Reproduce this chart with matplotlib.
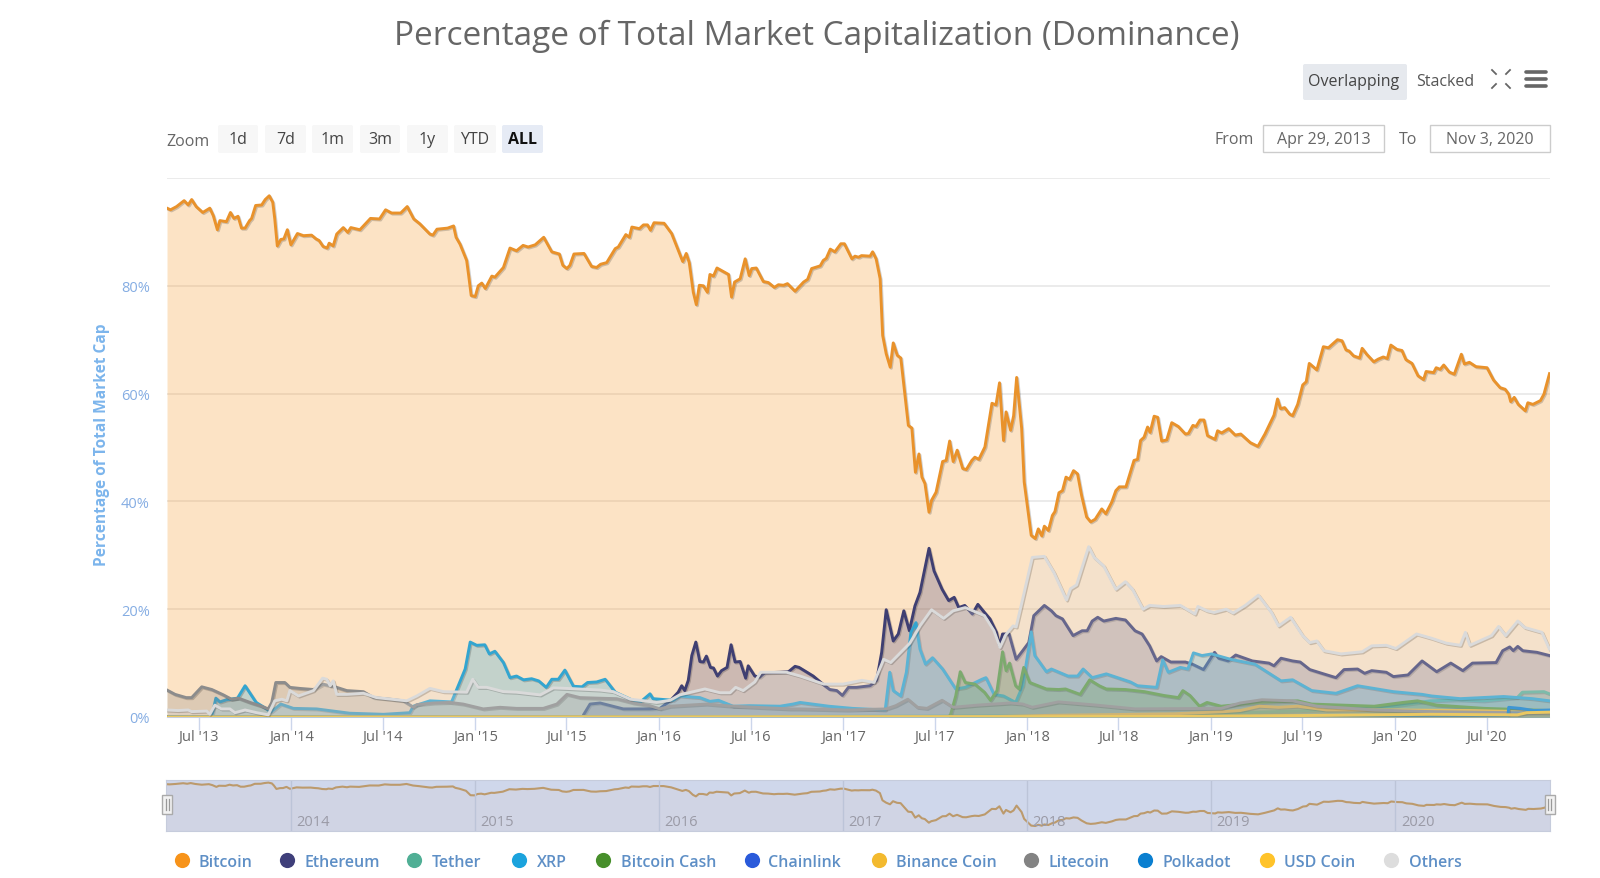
import pandas as pd
import numpy as np
import matplotlib
matplotlib.use('Agg')
import matplotlib.pyplot as plt
import matplotlib.patheffects as pe
from matplotlib.patches import FancyBboxPatch, Rectangle

plt.rcParams['font.family'] = ['Open Sans', 'DejaVu Sans']

W, H = 1600, 879

# all series: days since the first date, percent of market cap
start_date = pd.Timestamp('2013-04-29')
end_date = pd.Timestamp('2020-11-03')

btc_days = [0,7,19,34,42,49,58,71,85,92,100,105,118,126,133,141,148,155,164,168,176,188,195,203,210,214,219,226,232,239,246,259,271,287,296,302,310,318,322,330,337,350,359,365,383,404,422,434,446,464,477,490,502,522,528,536,557,569,574,582,595,599,604,612,618,625,632,645,651,668,
            681,694,707,717,731,748,764,779,786,794,800,808,828,843,853,861,873,890,896,911,918,923,938,946,954,960,967,987,1002,1024,1031,1037,1045,1051,1057,1065,1073,1078,1085,1092,1115,1121,1127,1138,1148,1156,1161,1170,1184,1194,1206,1214,1224,1232,1247,1264,1272,1280,1297,1303,1309,1317,1326,1338,1345,1360,1366,1373,1379,1396,1401,1408,
            1416,1421,1428,1436,1442,1450,1457,1472,1479,1486,1493,1499,1505,1513,1518,1527,1540,1547,1554,1561,1569,1580,1587,1598,1604,1612,1624,1638,1646,1653,1661,1666,1675,1681,1687,1697,1702,1716,1724,1730,1737,1742,1750,1758,1763,1771,1778,1785,1792,1800,1808,1816,1826,1834,1843,1856,1864,1876,1884,1891,1904,1920,1927,1933,1940,1947,
            1952,1960,1967,1975,1985,1995,2008,2022,2028,2037,2043,2051,2059,2066,2081,2086,2094,2108,2121,2132,2151,2166,2180,2198,2205,2211,2219,2229,2235,2245,2255,2262,2268,2283,2296,2306,2324,2333,2341,2347,2356,2368,2373,2382,2396,2405,2415,2423,2430,2442,2452,2460,2472,2484,2495,2500,2515,2520,2528,2535,2546,2556,2570,2576,2586,2599,2621,2634,2647,2657,2664,2668,2675,2683,2697,2702,2712,2727,2734,2745]
btc_pct = [94.4,94.1,94.7,95.8,95.0,96.0,94.7,93.6,94.4,93.0,90.4,92.1,91.9,93.6,92.5,92.9,90.7,90.7,92.1,92.5,94.9,95.0,96.0,96.7,95.5,92.4,87.4,88.6,88.7,90.4,87.6,89.7,89.3,89.4,88.7,88.4,87.3,87.0,87.9,87.4,89.6,90.8,89.9,90.8,90.4,92.5,92.4,94.1,93.5,93.5,94.7,92.4,91.5,89.6,89.4,90.5,90.7,91.1,89.0,87.7,84.7,81.9,78.2,78.0,80.0,80.5,79.5,81.8,81.6,83.4,
           87.0,86.5,87.5,87.2,87.6,89.0,86.3,85.9,83.8,83.2,83.8,85.9,86.0,83.6,83.4,84.0,84.3,86.9,87.2,89.5,89.0,90.9,90.6,91.3,91.3,90.3,91.7,91.6,89.7,84.5,86.0,84.3,78.8,76.5,80.1,80.0,78.8,82.1,81.8,83.3,82.1,77.9,80.7,81.3,85.0,81.9,83.2,83.3,80.8,80.6,79.7,80.2,80.1,80.4,79.0,80.7,81.2,83.2,83.7,84.7,85.1,86.8,86.3,87.8,87.8,85.0,85.5,85.3,85.6,85.5,86.3,85.0,
           81.3,70.8,67.4,64.9,69.4,67.1,66.6,54.1,53.6,45.4,48.8,44.5,43.3,38.0,40.2,41.7,47.4,47.6,51.2,47.4,49.5,46.1,45.9,47.6,48.2,47.8,50.1,58.2,57.9,62.0,51.3,56.6,53.2,55.9,63.0,53.5,43.6,33.7,33.1,34.9,33.6,35.4,34.6,37.4,38.1,41.6,42.0,44.5,44.1,45.7,45.1,41.1,37.1,36.2,36.7,38.6,37.7,39.9,42.0,42.7,42.7,47.6,47.8,51.3,51.9,53.8,
           52.8,55.8,55.6,51.2,51.4,54.6,53.9,52.5,52.6,54.1,53.9,55.1,55.1,52.2,51.5,53.1,52.7,53.5,52.3,52.5,50.9,50.2,52.5,56.0,59.0,57.2,57.4,56.2,55.9,58.0,61.6,62.2,65.6,64.4,68.7,68.5,70.0,69.8,68.1,67.9,67.0,66.6,68.4,67.3,65.9,66.4,66.8,66.5,69.0,68.2,68.0,66.3,65.6,63.3,62.6,64.1,63.9,64.8,64.5,65.3,64.0,63.6,67.3,65.5,65.8,65.0,64.8,62.5,61.1,60.8,59.9,58.5,59.3,58.0,56.8,58.3,58.0,58.7,59.9,63.7]

eth_days = [0,826,827,840,860,906,959,979,999,1015,1022,1028,1035,1042,1050,1058,1065,1071,1079,1085,1093,1101,1112,1120,1128,1138,1149,1154,1167,1177,1187,1217,1234,1247,1255,1283,1306,1316,1330,1341,1353,1369,1396,1409,1419,
            1428,1442,1452,1463,1474,1485,1495,1513,1523,1539,1552,1563,1572,1584,1599,1610,1623,1634,1647,1653,1659,1672,1686,1699,1711,1721,1742,1756,1765,1778,1799,1817,1827,1837,1848,1860,1884,1903,1922,1936,1951,1965,1974,1993,2022,2036,2058,2080,2088,2107,2122,2155,2188,2198,2212,2235,2250,2269,2293,2321,2337,2364,2378,2392,2421,2435,2464,2492,2521,2549,2573,2592,2639,2652,2666,2673,2682,2692,2720,2745]
eth_pct = [0.0,0.0,0.4,2.4,2.6,1.5,1.5,1.6,3.0,4.6,5.8,4.9,6.8,11.4,13.9,10.3,10.2,11.3,9.2,9.1,7.6,8.6,9.2,13.4,10.2,10.3,7.2,9.5,7.6,7.4,8.2,8.3,8.4,9.4,9.2,7.6,5.8,5.1,4.9,4.0,5.5,5.5,5.8,6.8,12.0,
           19.9,14.1,15.4,19.7,16.0,20.6,23.1,31.3,27.1,23.7,21.6,22.2,20.3,20.7,19.1,20.9,19.4,18.2,15.7,13.2,15.4,15.4,10.7,12.3,13.8,18.8,20.7,19.7,18.8,18.2,15.1,16.0,16.0,17.8,18.5,17.8,18.3,18.0,16.0,15.4,13.2,10.4,11.2,10.2,10.2,9.8,8.8,12.0,10.9,10.4,11.5,10.4,10.0,9.5,10.9,10.4,10.2,8.8,8.1,7.3,8.8,8.9,8.1,8.6,8.3,7.5,7.8,10.4,8.4,10.0,8.6,10.0,10.1,12.3,13.0,12.3,13.1,12.3,12.0,11.4]

usdt_days = [0,600,1750,2000,2200,2400,2508,2561,2614,2681,2691,2734,2745]
usdt_pct = [0.0,0.0,0.2,0.5,1.0,1.6,3.0,3.2,3.0,3.6,4.6,4.7,4.3]

xrp_days = [0,89,90,97,105,118,140,155,177,198,206,226,251,297,363,430,482,489,522,565,592,602,615,631,640,651,668,681,694,708,724,738,753,764,777,790,807,824,835,853,870,890,920,939,959,965,1005,1018,1058,1078,1095,1124,1157,1217,1243,
            1257,1314,1361,1426,1435,1442,1457,1468,1477,1487,1495,1506,1520,1540,1566,1585,1618,1626,1642,1661,1685,1699,1716,1723,1746,1756,1789,1808,1819,1837,1865,1913,1927,1965,1977,1988,2012,2027,2038,2055,2074,2112,2160,2212,2235,2273,2321,2364,2435,2492,2511,2568,2654,2711,2745]
xrp_pct = [0.0,0.0,0.5,3.5,2.8,3.2,3.5,5.8,2.7,1.5,0.9,2.4,1.6,1.5,0.7,0.5,0.8,2.0,3.0,2.8,8.9,13.9,13.3,13.4,11.7,12.2,10.1,7.3,7.6,6.9,7.1,6.7,5.5,7.0,7.0,8.7,5.7,5.6,6.4,6.5,7.0,4.6,3.3,2.7,4.3,3.4,3.1,3.9,3.6,2.9,3.1,2.0,2.1,2.0,2.4,
           2.7,2.0,1.6,1.3,8.3,4.9,3.9,8.3,15.7,17.5,12.6,9.8,11.0,8.9,5.2,5.5,7.0,7.3,4.2,3.9,2.7,5.8,15.8,11.4,8.4,8.9,7.6,7.6,8.9,7.3,8.0,6.5,5.8,5.5,10.6,8.3,9.2,8.9,11.9,11.4,11.7,10.7,9.8,6.7,6.9,4.9,4.4,5.8,4.7,4.2,3.9,3.4,3.8,3.4,3.0]

bch_days = [0,1552,1556,1566,1575,1585,1604,1623,1635,1648,1659,1666,1673,1685,1692,1701,1713,1746,1770,1784,1813,1832,1851,1865,1903,1941,1979,2008,2017,2031,2050,2065,2093,2169,2245,2273,2397,2454,2483,2521,2616,2745]
bch_pct = [0.0,0.0,0.5,3.9,8.4,6.4,6.1,4.6,3.1,4.9,12.1,8.6,10.0,5.8,5.2,9.2,6.4,5.2,5.1,5.2,4.2,6.9,5.8,5.2,5.1,4.7,4.0,3.6,4.9,4.0,2.0,2.7,2.0,2.7,3.0,2.4,2.0,2.7,3.0,2.2,1.6,1.2]

link_days = [0,2000,2300,2500,2660,2690,2745]
link_pct = [0.0,0.0,0.1,0.3,0.8,1.2,0.9]

bnb_days = [0,1600,1750,2000,2100,2131,2169,2207,2245,2302,2445,2587,2745]
bnb_pct = [0.0,0.0,0.3,0.6,1.0,1.2,2.0,1.8,2.0,1.3,1.3,1.2,0.9]

ltc_days = [0,16,38,49,69,89,112,128,142,165,185,201,208,216,234,244,264,291,310,337,357,390,410,443,469,483,489,496,529,562,588,628,661,694,747,774,794,820,853,893,926,959,979,999,1071,1124,1237,
            1257,1352,1428,1447,1471,1490,1509,1539,1561,1609,1675,1699,1718,1770,1846,1922,2093,2131,2174,2235,2283,2397,2511,2745]
ltc_pct = [5.0,4.2,3.6,3.6,5.6,5.1,4.1,3.3,3.5,2.7,2.1,1.5,2.7,6.4,6.4,5.5,5.3,5.1,6.1,5.5,4.9,4.7,3.6,3.3,3.0,2.2,1.8,2.3,2.6,2.7,2.4,1.5,1.8,1.6,1.6,2.4,4.2,3.6,3.5,3.4,2.6,2.1,1.5,2.0,2.4,2.0,1.5,
           1.5,1.3,1.5,2.1,3.3,1.8,1.6,3.1,1.8,2.2,2.6,2.4,1.8,2.8,2.2,1.5,1.6,2.6,3.2,3.0,2.0,1.3,1.0,0.7]

dot_days = [0,2662,2664,2687,2714,2745]
dot_pct = [0.0,0.0,1.8,1.6,1.2,1.3]

usdc_days = [0,2000,2300,2508,2681,2700,2745]
usdc_pct = [0.0,0.1,0.3,0.5,0.4,0.8,0.9]

others_days = [0,22,42,49,79,85,95,108,125,135,155,178,201,214,228,238,244,261,291,309,317,324,330,337,357,390,416,476,496,522,549,595,607,618,635,668,694,741,767,794,860,886,920,939,972,999,1018,1068,1098,1118,1129,1144,1167,1179,1230,1257,
               1304,1342,1380,1404,1423,1437,1475,1495,1518,1542,1561,1585,1623,1642,1654,1665,1680,1686,1699,1718,1742,1761,1786,1794,1806,1830,1841,1860,1884,1903,1917,1938,1951,1979,2012,2041,2047,2065,2079,2103,2117,2141,2167,2193,2207,2231,2255,2269,2283,2297,2331,2373,2392,2421,2440,2481,2511,2540,2568,2578,2587,2630,2644,2658,2682,2696,2730,2745]
others_pct = [1.3,1.2,1.3,1.0,1.1,0.5,2.2,1.5,1.5,0.8,1.3,0.8,0.4,3.0,3.3,3.0,4.9,3.9,4.9,7.2,7.0,5.8,6.7,4.2,4.2,4.4,3.6,3.0,3.9,5.3,4.7,4.6,7.0,5.5,5.5,4.7,4.6,4.1,5.4,5.3,5.0,4.7,3.3,3.1,2.7,3.1,4.1,5.2,4.5,4.5,5.5,4.9,6.5,8.3,8.3,7.6,
              6.1,6.1,6.8,6.4,10.7,10.1,13.7,16.9,19.9,18.3,19.7,20.3,18.8,16.0,12.9,15.2,16.9,16.7,21.9,29.6,29.8,26.8,21.7,23.8,24.5,31.6,29.6,28.0,23.7,25.1,23.7,20.0,20.7,20.5,20.7,19.1,20.5,19.7,19.4,20.0,19.3,20.7,22.6,19.4,16.9,18.5,15.1,13.8,14.1,12.3,11.7,12.1,13.2,13.3,12.7,15.4,14.6,13.7,13.3,15.7,13.3,15.1,16.8,15.1,17.8,16.6,15.7,12.6]

names = ['Bitcoin', 'Ethereum', 'Tether', 'XRP', 'Bitcoin Cash', 'Chainlink', 'Binance Coin', 'Litecoin', 'Polkadot', 'USD Coin', 'Others']
colors = ['#F7931A', '#3F3F7A', '#50AF95', '#1BA3DD', '#478F2B', '#2A5ADA', '#F3BA2F', '#838383', '#0A7FD0', '#FFC32A', '#DDDDDD']
line_colors = ['#E9922B', '#3F3F72', '#5DB09A', '#33A5D0', '#5C9A4A', '#2A5ADA', '#E5B440', '#8C8C8C', '#0A7FD0', '#F0C23A', '#DADADA']
all_days = [btc_days, eth_days, usdt_days, xrp_days, bch_days, link_days, bnb_days, ltc_days, dot_days, usdc_days, others_days]
all_pct = [btc_pct, eth_pct, usdt_pct, xrp_pct, bch_pct, link_pct, bnb_pct, ltc_pct, dot_pct, usdc_pct, others_pct]

tick_dates = ['2013-07-01', '2014-01-01', '2014-07-01', '2015-01-01', '2015-07-01', '2016-01-01', '2016-07-01', '2017-01-01',
              '2017-07-01', '2018-01-01', '2018-07-01', '2019-01-01', '2019-07-01', '2020-01-01', '2020-07-01']
tick_labels = ["Jul '13", "Jan '14", "Jul '14", "Jan '15", "Jul '15", "Jan '16", "Jul '16", "Jan '17",
               "Jul '17", "Jan '18", "Jul '18", "Jan '19", "Jul '19", "Jan '20", "Jul '20"]
nav_years = [2014, 2015, 2016, 2017, 2018, 2019, 2020]
zoom_buttons = ['1d', '7d', '1m', '3m', '1y', 'YTD', 'ALL']


def to_dates(days):
    return start_date + pd.to_timedelta(days, unit='D')


def px_axes(left, top, right, bottom):
    return fig.add_axes([left / W, 1 - bottom / H, (right - left) / W, (bottom - top) / H])


fig = plt.figure(figsize=(16, 8.79), dpi=100, facecolor='white')

# main chart, later series paint over the lines of earlier ones
ax = px_axes(167, 179, 1549.5, 718)
order = 2
for days, pct, c, lc in zip(all_days, all_pct, colors, line_colors):
    d = to_dates(days)
    ax.fill_between(d, pct, 0, color=c, alpha=0.25, linewidth=0, zorder=order)
    ax.plot(d, pct, color=lc, linewidth=2.1, solid_joinstyle='round', zorder=order + 1,
            path_effects=[pe.SimpleLineShadow(offset=(0.8, -0.8), alpha=0.18, shadow_color='black'), pe.Normal()])
    order += 2
ax.set_xlim(start_date, end_date)
ax.set_ylim(0, 100)
ax.set_yticks([0, 20, 40, 60, 80, 100])
ax.set_yticklabels(['0%', '20%', '40%', '60%', '80%', ''])
ax.set_xticks(pd.to_datetime(tick_dates))
ax.set_xticklabels(tick_labels)
ax.grid(axis='y', color='#E6E6E6', linewidth=1.1, zorder=1)
ax.set_axisbelow(True)
for s in ['top', 'left', 'right']:
    ax.spines[s].set_visible(False)
ax.spines['bottom'].set_color('#CCD6EB')
ax.tick_params(axis='y', length=0, pad=12.5, labelsize=10.5, labelcolor='#85ADE3')
ax.tick_params(axis='x', length=9, width=1, color='#CCD6EB', pad=0, labelsize=10.5, labelcolor='#666666')
ax.set_ylabel('Percentage of Total Market Cap', color='#7CB5EC', fontsize=11.2, fontweight='bold')
ax.yaxis.set_label_coords((110 - 167) / 1382.5, 0.508)

# navigator
nav = px_axes(166, 781, 1550, 832)
nav.set_facecolor('#CFD7EB')
nd = to_dates(btc_days)
nav.fill_between(nd, btc_pct, 25.8, color='#F7931A', alpha=0.03, linewidth=0)
nav.plot(nd, btc_pct, color='#BC9A6C', linewidth=1.5)
nav.set_xlim(start_date, end_date)
nav.set_ylim(25.8, 100.5)
nav.set_xticks([])
nav.set_yticks([])
for s in nav.spines.values():
    s.set_color('#C6CCDC')
    s.set_linewidth(0.8)
for y in nav_years:
    t = pd.Timestamp(f'{y}-01-01')
    nav.axvline(t, color='#BCC4D8', linewidth=1)
    nav.annotate(str(y), (t, 0), xycoords=('data', 'axes fraction'), xytext=(4, 1.5), textcoords='offset points',
                 color='#9A9AA6', fontsize=10.5, ha='left', va='bottom')

# everything else is page furniture, drawn in pixels on a transparent layer
ui = fig.add_axes([0, 0, 1, 1], zorder=5)
ui.set_xlim(0, W)
ui.set_ylim(H, 0)
ui.axis('off')
ui.patch.set_alpha(0)


def button(x0, y0, x1, y1, fc):
    ui.add_patch(FancyBboxPatch((x0 + 2, y0 + 2), x1 - x0 - 4, y1 - y0 - 4, boxstyle='round,pad=2', fc=fc, ec='none'))


ui.text(817, 36, 'Percentage of Total Market Capitalization (Dominance)', ha='center', va='center', fontsize=24, color='#666666')

button(1303, 65, 1407, 101, '#E6E9EE')
ui.text(1354, 82, 'Overlapping', ha='center', va='center', fontsize=11.5, color='#444444')
ui.text(1445, 82, 'Stacked', ha='center', va='center', fontsize=11.5, color='#555555')
for y in [73, 80, 87]:
    ui.plot([1526, 1546], [y, y], color='#666666', linewidth=2.6, solid_capstyle='round')
for sx, sy in [(-1, -1), (1, -1), (-1, 1), (1, 1)]:
    ui.plot([1501 + sx * 9, 1501 + sx * 5], [80 + sy * 9, 80 + sy * 5], color='#666666', linewidth=1.3)

ui.text(188, 142, 'Zoom', ha='center', va='center', fontsize=11.5, color='#666666')
zoom_x = [(218, 258), (265, 306), (312, 353), (360, 400), (407, 448), (454, 496), (502, 543)]
for label, (x0, x1) in zip(zoom_buttons, zoom_x):
    active = label == 'ALL'
    button(x0, 126, x1, 154, '#E6EBF5' if active else '#F7F7F7')
    ui.text((x0 + x1) / 2, 140, label, ha='center', va='center', fontsize=11.5,
            color='#111111' if active else '#444444', fontweight='bold' if active else 'normal')

ui.text(1234, 140, 'From', ha='center', va='center', fontsize=11.5, color='#666666')
ui.text(1408, 140, 'To', ha='center', va='center', fontsize=11.5, color='#666666')
for x0, x1, label in [(1263, 1384, 'Apr 29, 2013'), (1430, 1550, 'Nov 3, 2020')]:
    ui.add_patch(Rectangle((x0, 126), x1 - x0, 27, fc='white', ec='#CCCCCC', linewidth=1))
    ui.text((x0 + x1) / 2, 140, label, ha='center', va='center', fontsize=11.5, color='#666666')

# navigator handles
for x in [167, 1549.5]:
    ui.add_patch(Rectangle((x - 5, 796), 10, 19, fc='#F2F2F2', ec='#AAAAAA', linewidth=1))
    for dx in [-1.5, 1.5]:
        ui.plot([x + dx, x + dx], [800, 811], color='#999999', linewidth=0.9)

# legend
legend_x = [(182, 199), (287, 304), (414, 432), (519, 537), (603, 621), (752, 768), (879, 896), (1031, 1049), (1145, 1163), (1267, 1284), (1391, 1409)]
for name, c, (cx, tx) in zip(names, colors, legend_x):
    ui.scatter([cx], [861], s=120, color=c, linewidths=0)
    ui.text(tx, 863, name, ha='left', va='center', fontsize=11.5, color='#5E8FC6', fontweight='semibold')

fig.savefig('out.png', dpi=100)
